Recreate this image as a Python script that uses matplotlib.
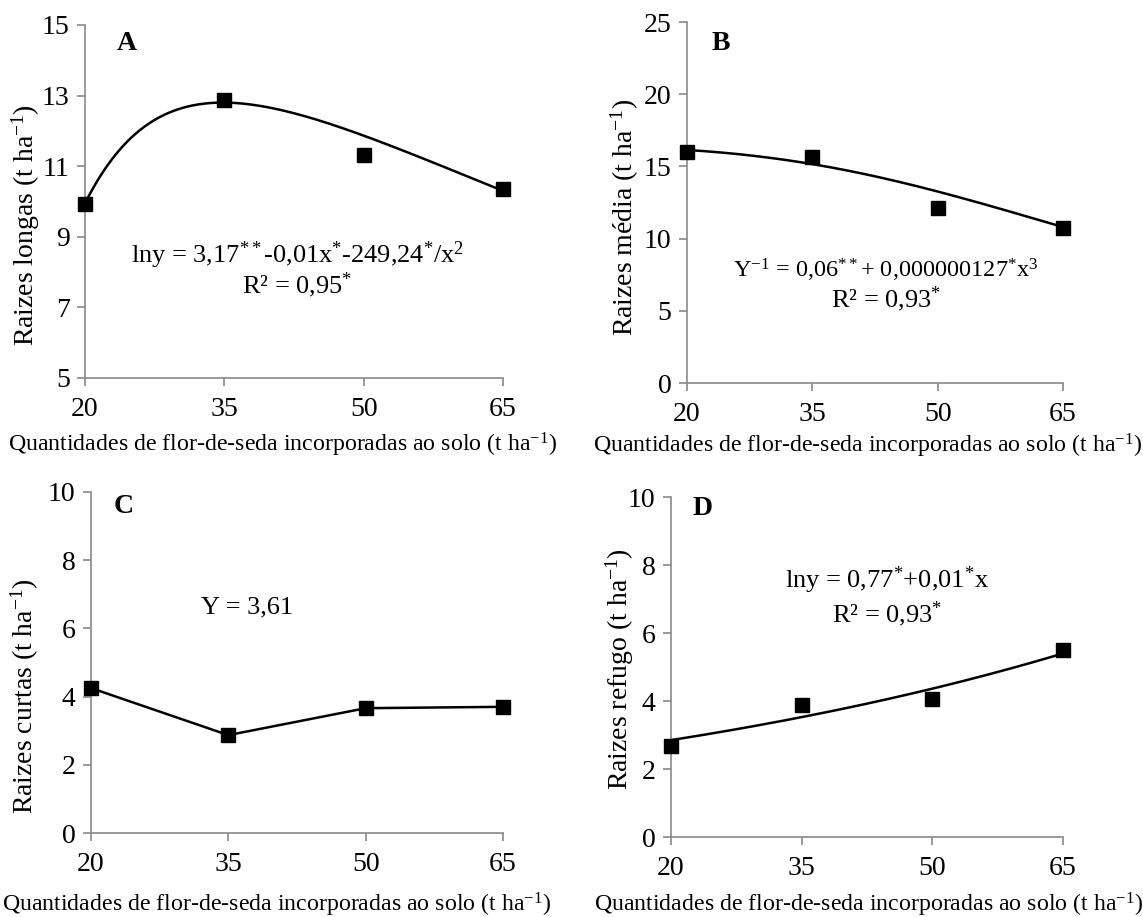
import numpy as np
import matplotlib
matplotlib.use("Agg")
import matplotlib.pyplot as plt

plt.rcParams['font.family'] = ['Liberation Serif', 'DejaVu Serif']
plt.rcParams['mathtext.fontset'] = 'custom'
plt.rcParams['mathtext.rm'] = 'Liberation Serif'
plt.rcParams['mathtext.it'] = 'Liberation Serif:italic'
plt.rcParams['mathtext.bf'] = 'Liberation Serif:bold'

# data
doses = [20, 35, 50, 65]
longas = [9.93, 12.88, 11.32, 10.35]
media = [16.0, 15.65, 12.1, 10.75]
curtas = [4.25, 2.87, 3.66, 3.70]
refugo = [2.68, 3.88, 4.06, 5.5]

# fitted curves as drawn (coefficients)
coef_a = (3.189, -0.01224, -258.6)     # lny = a + b x + c/x^2
coef_b = (0.06104, 1.149e-7)           # 1/y = a + b x^3
coef_d = (0.7633, 0.0142)              # lny = a + b x

xlabel = 'Quantidades de flor-de-seda incorporadas ao solo (t ha$^{\\mathregular{-1}}$)'
grey = '#898989'

fig = plt.figure(figsize=(11.43, 9.17), dpi=100)

def style(ax, ylim, yticks, ylab, ylab_xy, xlab_xy):
    ax.set_xlim(20, 65)
    ax.set_ylim(*ylim)
    ax.set_xticks(doses)
    ax.set_yticks(yticks)
    for s in ['top', 'right']:
        ax.spines[s].set_visible(False)
    for s in ['left', 'bottom']:
        ax.spines[s].set_color(grey)
        ax.spines[s].set_linewidth(1.2)
    ax.tick_params(direction='out', length=6, width=1.2, color=grey,
                   labelsize=20, pad=5)
    ax.tick_params(axis='x', pad=8)
    ax.set_ylabel(ylab, fontsize=20, va='center')
    ax.yaxis.set_label_coords(*ylab_xy)
    ax.set_xlabel(xlabel, fontsize=17.2, va='center')
    ax.xaxis.set_label_coords(*xlab_xy)

xs = np.linspace(20, 65, 200)

# A
ax = fig.add_axes([0.0744, 0.5878, 0.3657, 0.385])
style(ax, (5, 15), [5, 7, 9, 11, 13, 15], 'Raizes longas (t ha$^{\\mathregular{-1}}$)',
      (-0.143, 0.433), (0.473, -0.19))
ax.plot(xs, np.exp(coef_a[0] + coef_a[1] * xs + coef_a[2] / xs**2), color='black', lw=1.8)
ax.plot(doses, longas, 's', color='black', ms=10, clip_on=False, zorder=5)
ax.text(0.1, 0.948, 'A', transform=ax.transAxes, fontsize=20, fontweight='bold', ha='center', va='center')
ax.text(0.508, 0.347, 'lny = 3,17$^{**}$-0,01x$^{*}$-249,24$^{*}$/x$^{2}$', transform=ax.transAxes,
        fontsize=19, ha='center', va='center')
ax.text(0.508, 0.262, 'R² = 0,95$^{*}$', transform=ax.transAxes, fontsize=19, ha='center', va='center')

# B
ax = fig.add_axes([0.601, 0.5823, 0.329, 0.3937])
style(ax, (0, 25), [0, 5, 10, 15, 20, 25], 'Raizes média (t ha$^{\\mathregular{-1}}$)',
      (-0.165, 0.46), (0.48, -0.175))
ax.plot(xs, 1 / (coef_b[0] + coef_b[1] * xs**3), color='black', lw=1.8)
ax.plot(doses, media, 's', color='black', ms=10, clip_on=False, zorder=5)
ax.text(0.09, 0.94, 'B', transform=ax.transAxes, fontsize=20, fontweight='bold', ha='center', va='center')
ax.text(0.53, 0.312, 'Y$^{\\mathregular{-1}}$ = 0,06$^{**}$+ 0,000000127$^{*}$x$^{3}$', transform=ax.transAxes,
        fontsize=17.5, ha='center', va='center')
ax.text(0.53, 0.232, 'R² = 0,93$^{*}$', transform=ax.transAxes, fontsize=19, ha='center', va='center')

# C
ax = fig.add_axes([0.0796, 0.0916, 0.3605, 0.3719])
style(ax, (0, 10), [0, 2, 4, 6, 8, 10], 'Raizes curtas (t ha$^{\\mathregular{-1}}$)',
      (-0.16, 0.40), (0.45, -0.21))
ax.plot(doses, curtas, 's-', color='black', lw=1.8, ms=10, clip_on=False, zorder=5)
ax.text(0.08, 0.956, 'C', transform=ax.transAxes, fontsize=20, fontweight='bold', ha='center', va='center')
ax.text(0.38, 0.66, 'Y = 3,61', transform=ax.transAxes, fontsize=19, ha='center', va='center')

# D
ax = fig.add_axes([0.587, 0.0872, 0.343, 0.3708])
style(ax, (0, 10), [0, 2, 4, 6, 8, 10], 'Raizes refugo (t ha$^{\\mathregular{-1}}$)',
      (-0.13, 0.494), (0.505, -0.2))
ax.plot(xs, np.exp(coef_d[0] + coef_d[1] * xs), color='black', lw=1.8)
ax.plot(doses, refugo, 's', color='black', ms=10, clip_on=False, zorder=5)
ax.text(0.08, 0.966, 'D', transform=ax.transAxes, fontsize=20, fontweight='bold', ha='center', va='center')
ax.text(0.552, 0.755, 'lny = 0,77$^{*}$+0,01$^{*}$x', transform=ax.transAxes, fontsize=19, ha='center', va='center')
ax.text(0.552, 0.655, 'R² = 0,93$^{*}$', transform=ax.transAxes, fontsize=19, ha='center', va='center')

fig.savefig('out.png', dpi=100)
